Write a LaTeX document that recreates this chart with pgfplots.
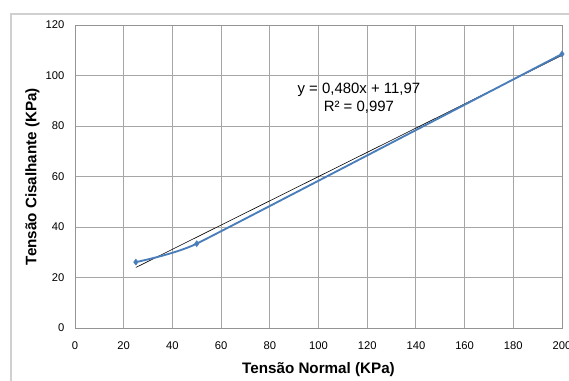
\documentclass[border=0pt]{standalone}
\usepackage{pgfplots}
\pgfplotsset{compat=1.18}
\usepackage{fontspec}
\setmainfont{Liberation Sans}
\definecolor{xlblue}{HTML}{4A7EBB}
\definecolor{gridgray}{HTML}{A6A6A6}
\definecolor{framegray}{HTML}{D0D0D0}
\begin{document}
\begin{tikzpicture}
\useasboundingbox (-56.25pt,-39.75pt) rectangle (370.5pt,246pt);
\draw[framegray, line width=1.1pt] (-48pt,-60pt) rectangle (390pt,235.5pt);
\begin{axis}[
  at={(0pt,0pt)}, anchor=south west,
  scale only axis,
  width=365.25pt, height=227.25pt,
  xmin=0, xmax=200, ymin=0, ymax=120,
  xtick distance=20, ytick distance=20,
  grid=major,
  grid style={gridgray, line width=0.6pt},
  axis line style={gridgray!120, line width=0.7pt},
  major tick length=0pt,
  tick label style={font=\fontsize{8.4pt}{10pt}\selectfont},
  /pgf/number format/assume math mode=true,
  xticklabel style={yshift=-7pt},
  yticklabel style={xshift=-4.5pt},
  label style={font=\fontsize{11.4pt}{13pt}\selectfont\bfseries},
  xlabel={Tensão Normal (KPa)},
  ylabel={Tensão Cisalhante (KPa)},
  xlabel style={at={(rel axis cs:0.5,0)}, anchor=base, yshift=-34.1pt},
  ylabel style={at={(rel axis cs:0,0.5)}, anchor=center, rotate=0, yshift=31.9pt},
  clip=false,
]
\addplot[black, line width=0.45pt] coordinates {(25,23.97) (200,107.97)};
\addplot[xlblue, line width=1.4pt, smooth, tension=0.18, mark=diamond*, mark size=2.2pt, mark options={fill=xlblue, draw=xlblue, line width=0.4pt}]
  coordinates {(25,26.1) (50,33.4) (200,108.5)};
\node[align=center, font=\fontsize{11.2pt}{13.5pt}\selectfont, inner sep=0pt] at (axis cs:116.6,91.1) {y = 0,480x + 11,97\\R² = 0,997};
\end{axis}
\end{tikzpicture}
\end{document}
